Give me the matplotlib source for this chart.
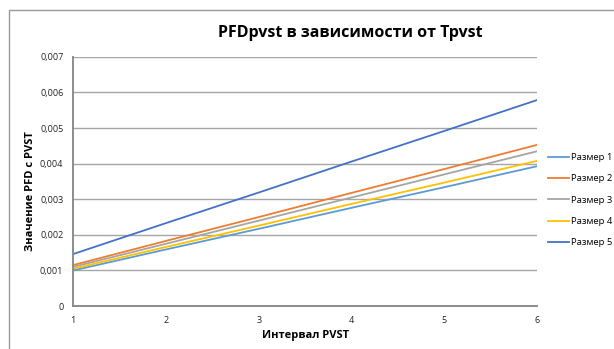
import numpy as np
import matplotlib.pyplot as plt
from matplotlib.patches import Rectangle

plt.rcParams['font.family'] = ['Open Sans', 'DejaVu Sans']

# Interval values and PFD for each size
interval = [1, 2, 3, 4, 5, 6]
size_1 = [0.00100, 0.00159, 0.00217, 0.00276, 0.00334, 0.00393]
size_2 = [0.00115, 0.00183, 0.00250, 0.00318, 0.00385, 0.00453]
size_3 = [0.00110, 0.00175, 0.00240, 0.00305, 0.00370, 0.00435]
size_4 = [0.00105, 0.00166, 0.00226, 0.00287, 0.00347, 0.00408]
size_5 = [0.00146, 0.00233, 0.00319, 0.00406, 0.00492, 0.00579]
series_names = ['Размер 1', 'Размер 2', 'Размер 3', 'Размер 4', 'Размер 5']
y_ticks = [0, 0.001, 0.002, 0.003, 0.004, 0.005, 0.006, 0.007]
y_tick_labels = ['0', '0,001', '0,002', '0,003', '0,004', '0,005', '0,006', '0,007']

colors = ['#5B9BD5', '#ED7D31', '#A5A5A5', '#FFC000', '#4472C4']

fig = plt.figure(figsize=(6.14, 3.49), dpi=100)
ax = fig.add_axes([0.119, 0.123, 0.756, 0.714])

# Outer chart frame running off the right and bottom edges
fig.patches.append(Rectangle((9 / 614, -0.1), 1.2, 1 - 10 / 349 + 0.1,
                             transform=fig.transFigure, fill=False,
                             edgecolor='#9a9a9a', linewidth=1.0))

for vals, name, c in zip([size_1, size_2, size_3, size_4, size_5], series_names, colors):
    ax.plot(interval, vals, color=c, linewidth=1.3, label=name)

ax.set_xlim(1, 6)
ax.set_ylim(0, 0.007)
ax.set_yticks(y_ticks)
ax.set_yticklabels(y_tick_labels)
ax.set_xticks(interval)
ax.tick_params(length=0, labelsize=6.5, pad=7, colors='#222222')
ax.grid(axis='y', color='#a6a6a6', linewidth=1.0)
ax.set_axisbelow(True)

for side in ['top', 'right']:
    ax.spines[side].set_visible(False)
for side in ['left', 'bottom']:
    ax.spines[side].set_color('#8c8c8c')
    ax.spines[side].set_linewidth(1.4)

ax.set_title('PFDpvst в зависимости от Tpvst', fontsize=11.5, fontweight='bold', pad=14, x=0.597)
ax.set_xlabel('Интервал PVST', fontsize=8, fontweight='bold', labelpad=4)
ax.set_ylabel('Значение PFD с PVST', fontsize=8, fontweight='bold', labelpad=3, y=0.46)

ax.legend(loc='center left', bbox_to_anchor=(1.005, 0.425), frameon=False,
          fontsize=6.8, handlelength=2.2, handletextpad=0.2, labelspacing=1.3)

fig.savefig('out.png', dpi=100)
